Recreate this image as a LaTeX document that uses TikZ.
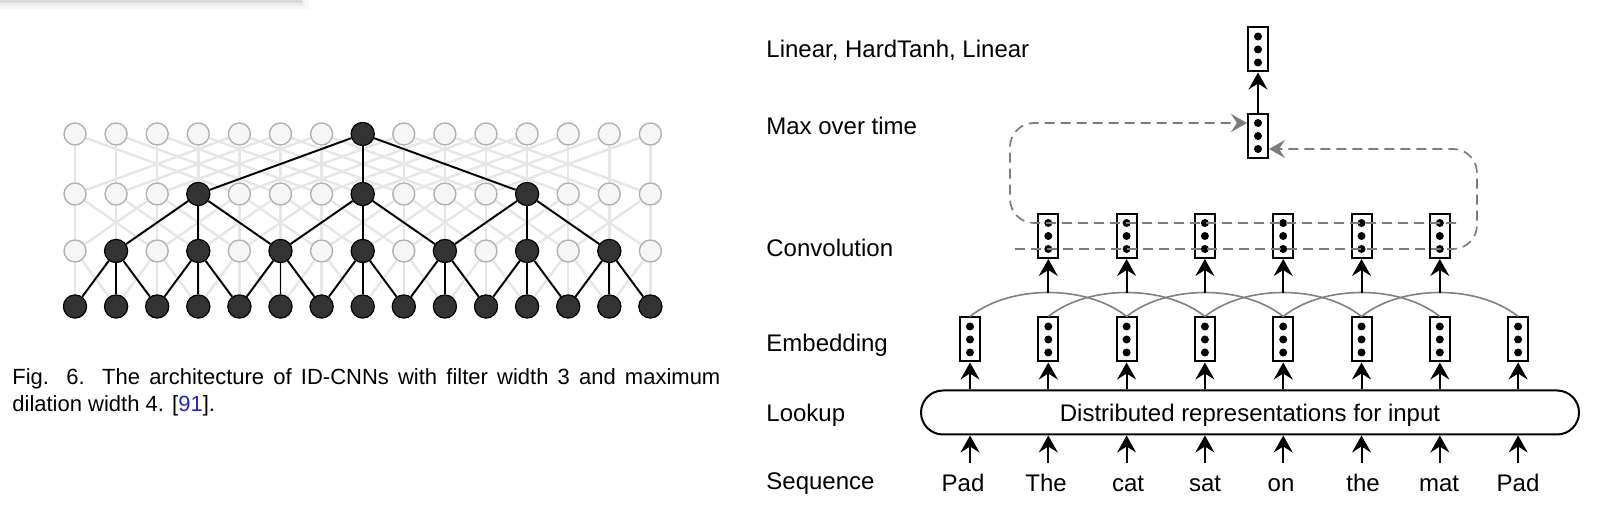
\documentclass[tikz,border=0pt]{standalone}
\usepackage{fontspec}
\setmainfont{Liberation Sans}
\usetikzlibrary{arrows.meta,backgrounds}
\definecolor{refblue}{HTML}{2424C8}
\definecolor{meshgray}{HTML}{E6E6E6}
\definecolor{dashgray}{HTML}{7C7C7C}
\definecolor{arcgray}{HTML}{808080}
\begin{document}
\begin{tikzpicture}[x=0.5pt,y=-0.5pt,
  gnode/.style={circle,inner sep=0pt,minimum size=11pt,fill=gray!7,draw=gray!60,line width=0.7pt},
  bnode/.style={circle,inner sep=0pt,minimum size=11.6pt,fill=black!80,draw=black,line width=0.6pt},
  mesh/.style={draw=meshgray,line width=1.2pt},
  tree/.style={draw=black,line width=0.95pt},
  vbox/.style={draw,line width=1pt,minimum width=10pt,minimum height=22pt,inner sep=0pt,
     path picture={\foreach \d in {-6.5,0,6.5}{\fill ([yshift=\d*1pt]path picture bounding box.center) circle (2pt);}}},
  lab/.style={anchor=base west,inner sep=0pt,font=\fontsize{12pt}{14pt}\selectfont},
  word/.style={anchor=base,inner sep=0pt,font=\fontsize{12pt}{14pt}\selectfont},
  capt/.style={anchor=base west,inner sep=0pt,font=\fontsize{11pt}{13pt}\selectfont},
  arr/.style={line width=1pt,-{Stealth[length=8.5pt,width=9.5pt,inset=3pt]}},
  arcline/.style={draw=arcgray,line width=0.8pt},
  dashline/.style={draw=dashgray,line width=0.85pt,dash pattern=on 5pt off 3pt,rounded corners=12pt,
     -{Stealth[length=8pt,width=9pt,inset=3pt,fill=dashgray]}},
]
\useasboundingbox (0,0) rectangle (1600,506);

% ---------------- left: ID-CNN ----------------
\foreach \i in {0,...,14}{
  \pgfmathtruncatemacro{\ba}{\i==7 ? 1 : 0}
  \pgfmathtruncatemacro{\bb}{(\i==3 || \i==7 || \i==11) ? 1 : 0}
  \pgfmathtruncatemacro{\bc}{mod(\i,2)}
  \ifnum\ba=1 \def\sa{bnode}\else\def\sa{gnode}\fi
  \ifnum\bb=1 \def\sb{bnode}\else\def\sb{gnode}\fi
  \ifnum\bc=1 \def\sc{bnode}\else\def\sc{gnode}\fi
  \node[\sa] (n1-\i) at ({75+41.1*\i},134) {};
  \node[\sb] (n2-\i) at ({75+41.1*\i},194) {};
  \node[\sc] (n3-\i) at ({75+41.1*\i},251) {};
  \node[bnode] (n4-\i) at ({75+41.1*\i},306.5) {};
}
\begin{pgfonlayer}{background}
  \fill[white] (0,0) rectangle (1600,506);
  % top-left bar
  \fill[gray!6] (0,0) rectangle (309,9);
  \fill[gray!13] (0,0) rectangle (305,6.5);
  \fill[gray!30] (0,0) rectangle (302,3.5);
  \foreach \i in {0,...,14}{
    \foreach \o in {-1,0,1}{
      \pgfmathtruncatemacro{\j}{\i+\o}
      \ifnum\j>-1 \ifnum\j<15 \draw[mesh] (n4-\i) -- (n3-\j); \fi\fi
    }
    \foreach \o in {-2,0,2}{
      \pgfmathtruncatemacro{\j}{\i+\o}
      \ifnum\j>-1 \ifnum\j<15 \draw[mesh] (n3-\i) -- (n2-\j); \fi\fi
    }
    \foreach \o in {-4,0,4}{
      \pgfmathtruncatemacro{\j}{\i+\o}
      \ifnum\j>-1 \ifnum\j<15 \draw[mesh] (n2-\i) -- (n1-\j); \fi\fi
    }
  }
  \foreach \i in {1,3,...,13}{
    \pgfmathtruncatemacro{\a}{\i-1}
    \pgfmathtruncatemacro{\b}{\i+1}
    \draw[tree] (n4-\a) -- (n3-\i) -- (n4-\b);
    \draw[tree] (n3-\i) -- (n4-\i);
  }
  \foreach \i in {3,7,11}{
    \pgfmathtruncatemacro{\a}{\i-2}
    \pgfmathtruncatemacro{\b}{\i+2}
    \draw[tree] (n3-\a) -- (n2-\i) -- (n3-\b);
    \draw[tree] (n2-\i) -- (n3-\i);
  }
  \draw[tree] (n2-3) -- (n1-7) -- (n2-11);
  \draw[tree] (n1-7) -- (n2-7);
\end{pgfonlayer}

% caption
\node[capt] (cap1) at (12,385) {\makebox[354pt][s]{Fig. 6. The architecture of ID-CNNs with filter width 3 and maximum}};
\node[capt] (cap2) at (12,411.5) {dilation width 4. [\textcolor{refblue}{91}].};

% ---------------- right: CNN for sentences ----------------
\node[lab] (l1) at (766,57.5) {Linear, HardTanh, Linear};
\node[lab] (l2) at (766,135) {Max over time};
\node[lab] (l3) at (766,257) {Convolution};
\node[lab] (l4) at (766,352) {Embedding};
\node[lab] (l5) at (766,421.5) {Lookup};
\node[lab] (l6) at (766,490) {Sequence};

\node[vbox] (top) at (1258,49.5) {};
\node[vbox] (mx) at (1258,136) {};
\foreach \i in {0,...,7}{
  \node[vbox] (e\i) at ({970+78.3*\i},339.5) {};
}
\foreach \i in {1,...,6}{
  \node[vbox] (c\i) at ({970+78.3*\i},236) {};
}
\node[draw,line width=1pt,rounded corners=11pt,minimum width=329pt,minimum height=22pt,
      inner sep=0pt,text height=9.1pt,text depth=0pt,font=\fontsize{12pt}{14pt}\selectfont]
      (look) at (1250,412.5) {Distributed representations for input};

\foreach \i/\w/\wx in {0/Pad/963,1/The/1046,2/cat/1128,3/sat/1205,4/on/1281,5/the/1363,6/mat/1439,7/Pad/1518}{
  \node[word] (w\i) at (\wx,492) {\w};
  \coordinate (s\i) at ({970+78.3*\i},463);
  \draw[arr] (s\i) -- (s\i |- look.south);
  \draw[arr] (e\i.south |- look.north) -- (e\i.south);
}

% arcs from embeddings
\foreach \i in {0,...,5}{
  \pgfmathtruncatemacro{\k}{\i+2}
  \draw[arcline] (e\i.north) .. controls +(40,-32) and +(-40,-32) .. (e\k.north);
}
\foreach \i in {1,...,6}{
  \coordinate (p\i) at ({970+78.3*\i},293);
  \draw[arr] (p\i) -- (c\i.south);
}
\draw[arr] (mx.north) -- (top.south);

% dashed max-over-time connections
\coordinate (dr) at (1456,223);
\coordinate (ka) at (1010,223);
\coordinate (kb) at (1010,123);
\coordinate (dl) at (1015,249);
\coordinate (kc) at (1477,249);
\coordinate (kd) at (1477,149);
\draw[dashline] (dr) -- (ka) -- (kb) -- ([yshift=6.5pt]mx.west);
\draw[dashline] (dl) -- (kc) -- (kd) -- ([yshift=-6.5pt]mx.east);
\end{tikzpicture}
\end{document}
